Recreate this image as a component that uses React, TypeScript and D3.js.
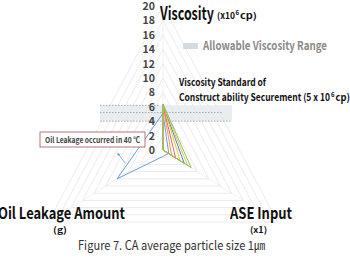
import { useRef, useEffect } from 'react'
import * as d3 from 'd3'

// axes: viscosity (top), ASE input (bottom right), oil leakage (bottom left)
const axes = ['Viscosity', 'ASE Input', 'Oil Leakage Amount']
const ticks = [0, 2, 4, 6, 8, 10, 12, 14, 16, 18, 20]

// series values in axis order [viscosity, ASE, oil leakage]
const seriesColors = ['#6a9fd8', '#f39a4c', '#e26a6a', '#f2c63c', '#4f81bd', '#cfd05a', '#9bbb59']
const seriesValues = [
  [5.1, 1.0, 8.0],
  [6.2, 1.5, 0],
  [6.2, 2.2, 0],
  [6.3, 3.0, 0],
  [6.3, 3.7, 0],
  [6.3, 4.3, 0],
  [6.4, 4.9, 0],
]

// allowable viscosity range and the reference dotted lines
const rangeBand = [4.0, 6.2]
const refLines = [6.2, 5.2, 4.0]

const W = 350
const H = 259
const FONT = "'Noto Sans CJK KR', 'Noto Sans', sans-serif"

function App() {
  const svgRef = useRef<SVGSVGElement | null>(null)

  useEffect(() => {
    if (!svgRef.current) return
    const svg = d3.select(svgRef.current)
    svg.selectAll('*').remove()

    const cx = 163
    const cy = 150
    const kx = 0.92 // picture is slightly squeezed sideways
    const r = d3.scaleLinear().domain([0, 20]).range([0, 144])
    const angles = [-Math.PI / 2, Math.PI / 6, (5 * Math.PI) / 6]
    const pt = (i: number, v: number): [number, number] => [
      cx + kx * r(v) * Math.cos(angles[i]),
      cy + r(v) * Math.sin(angles[i]),
    ]
    const closed = d3.line().curve(d3.curveLinearClosed)

    const g = svg.append('g')

    // grid triangles
    ticks.slice(1).forEach(t => {
      g.append('path')
        .attr('d', closed([0, 1, 2].map(i => pt(i, t))))
        .attr('fill', 'none')
        .attr('stroke', '#e6e6e6')
        .attr('stroke-width', 0.8)
    })
    ;[0, 1, 2].forEach(i => {
      const [x, y] = pt(i, 20)
      g.append('line')
        .attr('x1', cx).attr('y1', cy).attr('x2', x).attr('y2', y)
        .attr('stroke', '#ededed')
        .attr('stroke-width', 0.8)
    })

    // allowable range band
    g.append('rect')
      .attr('x', 100)
      .attr('y', cy - r(rangeBand[1]))
      .attr('width', 132)
      .attr('height', r(rangeBand[1]) - r(rangeBand[0]))
      .attr('fill', '#e2e7ea')
      .attr('opacity', 0.75)
    refLines.forEach((v, i) => {
      g.append('line')
        .attr('x1', 100)
        .attr('x2', i === 0 ? 160 : i === 1 ? 222 : 232)
        .attr('y1', cy - r(v))
        .attr('y2', cy - r(v))
        .attr('stroke', '#9a9a9a')
        .attr('stroke-width', 0.8)
        .attr('stroke-dasharray', '1.5,1.5')
    })

    // tick labels
    ticks.forEach(t => {
      g.append('text')
        .attr('x', 155)
        .attr('y', cy - r(t) + 4)
        .attr('text-anchor', 'end')
        .attr('font-family', FONT)
        .attr('font-size', 10.5)
        .attr('font-weight', 700)
        .attr('fill', '#444')
        .text(t)
    })

    // series polygons
    seriesValues.forEach((vals, s) => {
      g.append('path')
        .attr('d', closed(vals.map((v, i) => pt(i, v))))
        .attr('fill', 'none')
        .attr('stroke', seriesColors[s])
        .attr('stroke-width', 1)
    })

    // annotation box and arrow
    g.append('rect')
      .attr('x', 40).attr('y', 132).attr('width', 105).attr('height', 15)
      .attr('fill', '#fff')
      .attr('stroke', '#a8505e')
      .attr('stroke-width', 0.8)
    g.append('text')
      .attr('x', 45).attr('y', 142.5)
      .attr('font-family', FONT)
      .attr('font-size', 8)
      .attr('font-weight', 700)
      .attr('textLength', 95)
      .attr('lengthAdjust', 'spacingAndGlyphs')
      .attr('fill', '#444')
      .text('Oil Leakage occurred in 40 ℃')
    g.append('line')
      .attr('x1', 125).attr('y1', 163).attr('x2', 118.5).attr('y2', 154)
      .attr('stroke', '#6a9fd8').attr('stroke-width', 0.8)
    g.append('path')
      .attr('d', 'M117.5,152.5 L117.6,156 L120.3,154.6 Z')
      .attr('fill', '#6a9fd8')

    // plain text helper, squeezed to the width seen in the picture
    const label = (
      x: number, y: number, len: number | null, size: number, txt: string,
      weight = 700, fill = '#111',
    ) => {
      const t = g.append('text')
        .attr('x', x).attr('y', y)
        .attr('font-family', FONT)
        .attr('font-size', size)
        .attr('font-weight', weight)
        .attr('fill', fill)
        .text(txt)
      if (len) t.attr('textLength', len).attr('lengthAdjust', 'spacingAndGlyphs')
      return t
    }

    // legend
    g.append('rect')
      .attr('x', 183).attr('y', 43).attr('width', 15).attr('height', 6)
      .attr('fill', '#d3dbe0')
    label(203, 50, 124, 12, 'Allowable Viscosity Range', 700, '#8a8a8a')

    // viscosity standard text
    label(179, 86, 87, 10, 'Viscosity Standard  of')
    label(179, 101, 151, 10, 'Construct ability Securement (5 x 10')
    label(331, 96.5, null, 6, '6')
    label(335.5, 101, 14.5, 10, ' cp)')

    // axis titles
    label(160, 20, 54, 18, axes[0])
    label(217, 19, 18, 9, '(x10')
    label(235.5, 15, null, 6, '6')
    label(240, 19, 17, 9, 'cp)')

    label(-2, 219, 127, 16, axes[2])
    label(53, 233, 14, 8.5, '(g)')
    label(230, 219, 62, 16, axes[1])
    label(250, 233, 17, 8.5, '(x1)')

    label(78, 250, 187, 12.5, 'Figure 7. CA average particle size 1㎛', 400, '#333')
  }, [])

  return (
    <svg
      ref={svgRef}
      width={W}
      height={H}
      style={{ position: 'absolute', left: 0, top: 0, background: '#fff' }}
    />
  )
}

export default App
